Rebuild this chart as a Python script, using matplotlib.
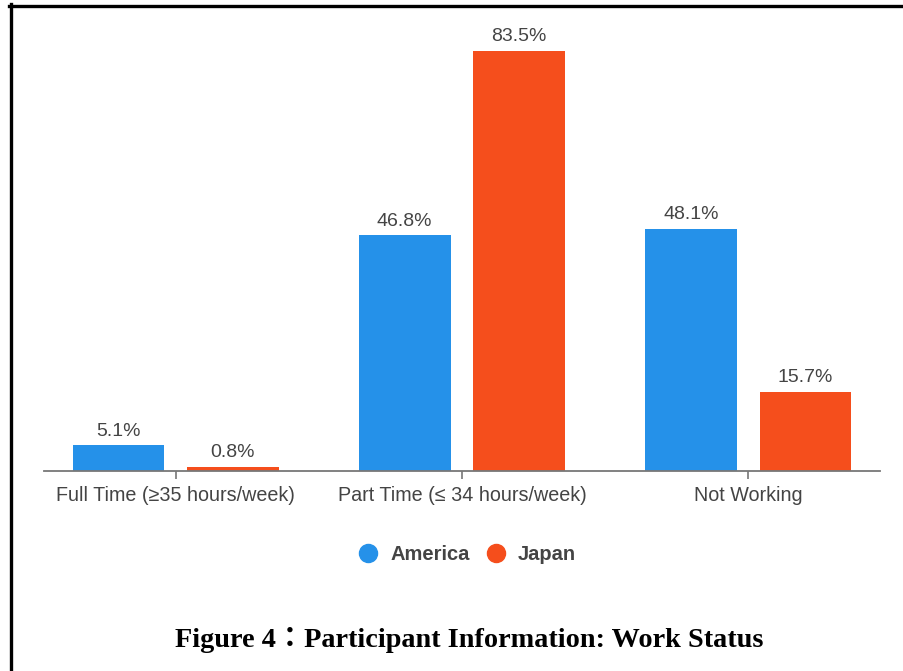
import numpy as np
import matplotlib.pyplot as plt
from matplotlib.lines import Line2D

categories = ['Full Time (≥35 hours/week)', 'Part Time (≤ 34 hours/week)', 'Not Working']
america = [5.1, 46.8, 48.1]
japan = [0.8, 83.5, 15.7]
series_names = ['America', 'Japan']
colors = ['#2591E9', '#F54E1C']

plt.rcParams['font.family'] = ['Liberation Sans', 'DejaVu Sans']

fig = plt.figure(figsize=(9.04, 6.71), dpi=100)
ax = fig.add_axes([44 / 904, 200 / 671, 836 / 904, 443 / 671])

x = np.arange(len(categories))
w = 0.32
off = 0.2
b1 = ax.bar(x - off, america, w, color=colors[0])
b2 = ax.bar(x + off, japan, w, color=colors[1])

for bars, vals in [(b1, america), (b2, japan)]:
    for b, v in zip(bars, vals):
        ax.annotate(f'{v}%', (b.get_x() + b.get_width() / 2, v),
                    xytext=(0, 4), textcoords='offset points',
                    ha='center', va='bottom', fontsize=14, color='#444444')

ax.set_xlim(-0.46, 2.46)
ax.set_ylim(0, 88)
ax.set_xticks(x)
ax.set_xticklabels(categories, fontsize=14.2, color='#444444')
ax.set_yticks([])
for s in ['top', 'right', 'left']:
    ax.spines[s].set_visible(False)
ax.spines['bottom'].set_color('#777777')
ax.spines['bottom'].set_linewidth(1.3)
ax.tick_params(axis='x', length=6, width=1.2, color='#777777', pad=5)

handles = [Line2D([], [], marker='o', ls='', markersize=13, color=c) for c in colors]
leg = fig.legend(handles, series_names, loc='center', bbox_to_anchor=(462 / 904, 1 - 555 / 671),
                 ncol=2, frameon=False, handletextpad=0.1, columnspacing=0.3,
                 prop={'weight': 'bold', 'size': 14.5})
for t in leg.get_texts():
    t.set_color('#444444')

fig.text(469 / 904, 1 - 640 / 671, 'Figure 4：Participant Information: Work Status',
         ha='center', va='center', fontsize=20.3, fontweight='bold',
         family=['Liberation Serif', 'Noto Sans CJK JP'])

# frame around the figure (left and top edges visible)
fig.add_artist(Line2D([10.5 / 904, 10.5 / 904], [0, 1 - 4 / 671], color='black', lw=2.4,
                      transform=fig.transFigure))
fig.add_artist(Line2D([9 / 904, 1], [1 - 5.5 / 671, 1 - 5.5 / 671], color='black', lw=2.4,
                      transform=fig.transFigure))

fig.savefig('out.png', dpi=100)
